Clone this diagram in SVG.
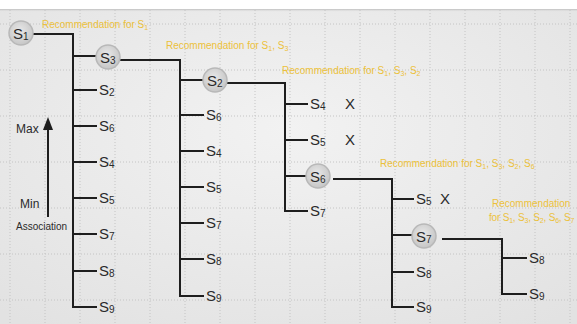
<svg xmlns="http://www.w3.org/2000/svg" width="577" height="324" viewBox="0 0 577 324">
<defs>
<radialGradient id="bg" cx="50%" cy="40%" r="75%">
<stop offset="0" stop-color="#f2f2f2"/>
<stop offset="1" stop-color="#e2e2e2"/>
</radialGradient>
<radialGradient id="cg" cx="45%" cy="40%" r="60%">
<stop offset="0" stop-color="#e8e8e8"/>
<stop offset="1" stop-color="#c6c6c6"/>
</radialGradient>
<linearGradient id="topshadow" x1="0" y1="0" x2="0" y2="1">
<stop offset="0" stop-color="#bdbdbd"/>
<stop offset="1" stop-color="#e9e9e9" stop-opacity="0"/>
</linearGradient>
</defs>
<style>
.grid{stroke:#c4c4c4;stroke-width:1;stroke-dasharray:1 2;fill:none}
.ln{stroke:#1e1e1e;stroke-width:2;fill:none}
.s{font-family:"Liberation Sans",Arial,sans-serif;font-size:15px;fill:#2a2a2a}
.sub{font-size:10px}
.x{font-family:"Liberation Sans",Arial,sans-serif;font-size:15px;fill:#2a2a2a}
.ax{font-family:"Liberation Sans",Arial,sans-serif;fill:#2a2a2a}
.rec{font-family:"Liberation Sans",Arial,sans-serif;font-size:10px;fill:#ecc13a}
.rsub{font-size:7px}
.hl{fill:url(#cg);stroke:#b8b8b8;stroke-width:1.5}
</style>
<rect x="0" y="0" width="577" height="324" fill="url(#bg)"/>
<rect x="0" y="0" width="577" height="9" fill="#ffffff"/>
<rect x="0" y="9" width="577" height="3" fill="url(#topshadow)"/>
<g id="grid">
<path class="grid" d="M10 10V324M45 10V324M80 10V324M115 10V324M150 10V324M185 10V324M220 10V324M255 10V324M290 10V324M325 10V324M360 10V324M395 10V324M430 10V324M465 10V324M500 10V324M535 10V324M570 10V324"/>
<path class="grid" d="M0 24H577M0 70H577M0 116H577M0 162H577M0 208H577M0 254H577M0 300H577"/>
</g>
<g id="connectors">
<path class="ln" d="M33 34H73V307H97M73 56H96M73 90H97M73 126H97M73 162H97M73 198H97M73 234H97M73 271H97"/>
<path class="ln" d="M119 60H180V296H204M180 80H203M180 115H204M180 151H204M180 187H204M180 223H204M180 259H204"/>
<path class="ln" d="M227 83H285V211H308M285 104H308M285 140H308M285 176H307"/>
<path class="ln" d="M333 179H392V307H414M392 199H414M392 235H413M392 272H414"/>
<path class="ln" d="M442 239H502V294H527M502 258H527"/>
</g>
<g id="axis">
<line class="ln" x1="48" y1="217" x2="48" y2="128"/>
<polygon points="48,117 43,130 53,130" fill="#1e1e1e"/>
<text class="ax" x="16" y="133" font-size="12">Max</text>
<text class="ax" x="20" y="208" font-size="12">Min</text>
<text class="ax" x="16" y="230" font-size="10">Association</text>
</g>
<g id="labels">
<text class="rec" x="42" y="28">Recommendation for S<tspan class="rsub" dy="2">1</tspan></text>
<text class="rec" x="166" y="49">Recommendation for S<tspan class="rsub" dy="2">1</tspan><tspan dy="-2">, S</tspan><tspan class="rsub" dy="2">3</tspan></text>
<text class="rec" x="282" y="74">Recommendation for S<tspan class="rsub" dy="2">1</tspan><tspan dy="-2">, S</tspan><tspan class="rsub" dy="2">3</tspan><tspan dy="-2">, S</tspan><tspan class="rsub" dy="2">2</tspan></text>
<text class="rec" x="380" y="167">Recommendation for S<tspan class="rsub" dy="2">1</tspan><tspan dy="-2">, S</tspan><tspan class="rsub" dy="2">3</tspan><tspan dy="-2">, S</tspan><tspan class="rsub" dy="2">2</tspan><tspan dy="-2">, S</tspan><tspan class="rsub" dy="2">6</tspan></text>
<text class="rec" x="492" y="207">Recommendation</text>
<text class="rec" x="489" y="221" font-size="9" letter-spacing="-0.2">for S<tspan class="rsub" font-size="6.5" dy="2">1</tspan><tspan dy="-2">, S</tspan><tspan class="rsub" font-size="6.5" dy="2">3</tspan><tspan dy="-2">, S</tspan><tspan class="rsub" font-size="6.5" dy="2">2</tspan><tspan dy="-2">, S</tspan><tspan class="rsub" font-size="6.5" dy="2">6</tspan><tspan dy="-2">, S</tspan><tspan class="rsub" font-size="6.5" dy="2">7</tspan></text>
</g>
<g id="n-a-s1"><circle class="hl" cx="21" cy="33" r="12"/><text class="s" x="13" y="39">S<tspan class="sub" dy="1">1</tspan></text></g>
<g id="n-a-s3"><circle class="hl" cx="108" cy="57" r="12"/><text class="s" x="100" y="63">S<tspan class="sub" dy="1">3</tspan></text></g>
<g id="n-a-s2"><text class="s" x="99" y="95">S<tspan class="sub" dy="1">2</tspan></text></g>
<g id="n-a-s6"><text class="s" x="99" y="131">S<tspan class="sub" dy="1">6</tspan></text></g>
<g id="n-a-s4"><text class="s" x="99" y="167">S<tspan class="sub" dy="1">4</tspan></text></g>
<g id="n-a-s5"><text class="s" x="99" y="203">S<tspan class="sub" dy="1">5</tspan></text></g>
<g id="n-a-s7"><text class="s" x="99" y="239">S<tspan class="sub" dy="1">7</tspan></text></g>
<g id="n-a-s8"><text class="s" x="99" y="276">S<tspan class="sub" dy="1">8</tspan></text></g>
<g id="n-a-s9"><text class="s" x="99" y="312">S<tspan class="sub" dy="1">9</tspan></text></g>
<g id="n-b-s2"><circle class="hl" cx="215" cy="80" r="12"/><text class="s" x="207" y="86">S<tspan class="sub" dy="1">2</tspan></text></g>
<g id="n-b-s6"><text class="s" x="206" y="120">S<tspan class="sub" dy="1">6</tspan></text></g>
<g id="n-b-s4"><text class="s" x="206" y="156">S<tspan class="sub" dy="1">4</tspan></text></g>
<g id="n-b-s5"><text class="s" x="206" y="192">S<tspan class="sub" dy="1">5</tspan></text></g>
<g id="n-b-s7"><text class="s" x="206" y="228">S<tspan class="sub" dy="1">7</tspan></text></g>
<g id="n-b-s8"><text class="s" x="206" y="264">S<tspan class="sub" dy="1">8</tspan></text></g>
<g id="n-b-s9"><text class="s" x="206" y="301">S<tspan class="sub" dy="1">9</tspan></text></g>
<g id="n-c-s4"><text class="s" x="310" y="109">S<tspan class="sub" dy="1">4</tspan></text><text class="x" x="345" y="109">X</text></g>
<g id="n-c-s5"><text class="s" x="310" y="145">S<tspan class="sub" dy="1">5</tspan></text><text class="x" x="345" y="145">X</text></g>
<g id="n-c-s6"><circle class="hl" cx="318" cy="176" r="12"/><text class="s" x="310" y="182">S<tspan class="sub" dy="1">6</tspan></text></g>
<g id="n-c-s7"><text class="s" x="310" y="216">S<tspan class="sub" dy="1">7</tspan></text></g>
<g id="n-d-s5"><text class="s" x="416" y="204">S<tspan class="sub" dy="1">5</tspan></text><text class="x" x="440" y="204">X</text></g>
<g id="n-d-s7"><circle class="hl" cx="424" cy="236" r="12"/><text class="s" x="416" y="242">S<tspan class="sub" dy="1">7</tspan></text></g>
<g id="n-d-s8"><text class="s" x="416" y="277">S<tspan class="sub" dy="1">8</tspan></text></g>
<g id="n-d-s9"><text class="s" x="416" y="312">S<tspan class="sub" dy="1">9</tspan></text></g>
<g id="n-e-s8"><text class="s" x="529" y="263">S<tspan class="sub" dy="1">8</tspan></text></g>
<g id="n-e-s9"><text class="s" x="529" y="299">S<tspan class="sub" dy="1">9</tspan></text></g>
</svg>
